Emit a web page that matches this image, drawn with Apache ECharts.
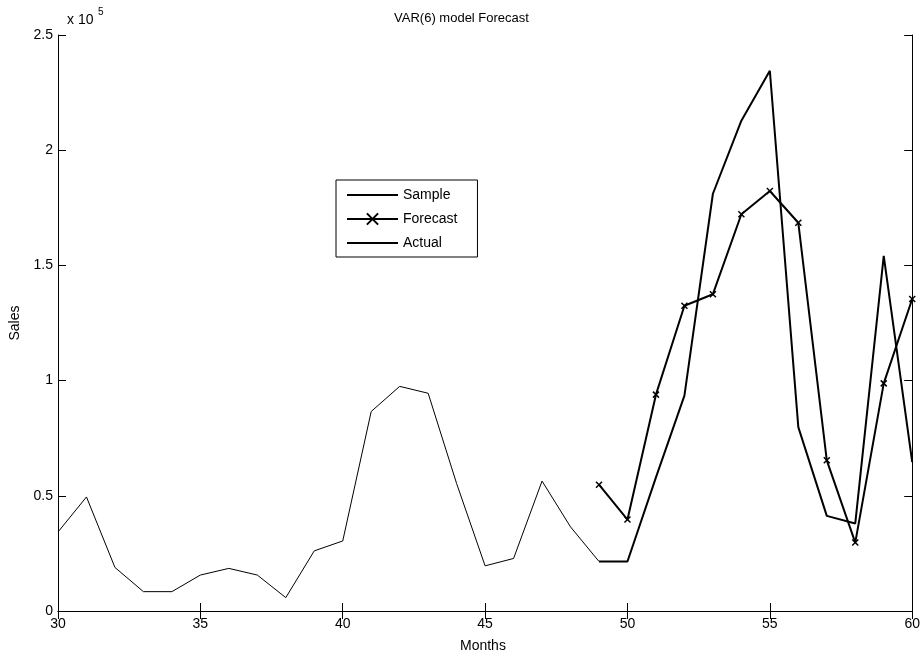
<!DOCTYPE html>
<html>
<head>
<meta charset="utf-8">
<script src="https://cdn.jsdelivr.net/npm/echarts@6/dist/echarts.min.js"></script>
<style>
    html, body { margin: 0; padding: 0; background: #fff; }
    #chart { width: 923px; height: 657px; }
</style>
</head>
<body>
<div id="chart"></div>
<script>
// months and sales
const sampleMonths = [30, 31, 32, 33, 34, 35, 36, 37, 38, 39, 40, 41, 42, 43, 44, 45, 46, 47, 48, 49]
const sampleSales = [34300, 49500, 18900, 8400, 8400, 15600, 18500, 15600, 5800, 26100, 30400, 86600, 97500, 94500, 55300, 19600, 22800, 56400, 36500, 21500]

const forecastMonths = [49, 50, 51, 52, 53, 54, 55, 56, 57, 58, 59, 60]
const forecastSales = [54800, 39700, 93900, 132500, 137500, 172200, 182300, 168500, 65400, 29700, 98800, 135400]

const actualMonths = [49, 50, 51, 52, 53, 54, 55, 56, 57, 58, 59, 60]
const actualSales = [21500, 21500, 58000, 93500, 181100, 212800, 234500, 79800, 41300, 38000, 154100, 64600]

const xTicks = [30, 35, 40, 45, 50, 55, 60]
const yTicks = [0, 50000, 100000, 150000, 200000, 250000]

const pair = (xs, ys) => xs.map((x, i) => [x, ys[i]])

let myChart = echarts.init(document.getElementById('chart'))
const axisColor = '#000'
const font = 'Arial, "Liberation Sans", sans-serif'

let option = {
    animation: false,
    textStyle: { fontFamily: font },
    title: {
        text: 'VAR(6) model Forecast',
        left: 'center',
        top: 7,
        textStyle: { color: '#000', fontSize: 13, fontWeight: 'normal', fontFamily: font }
    },
    grid: { left: 58, right: 10, top: 35, bottom: 46 },
    legend: {
        orient: 'vertical',
        left: 336,
        top: 180,
        padding: [8, 20, 7, 10],
        itemGap: 10,
        itemWidth: 51,
        itemHeight: 14,
        borderColor: '#000',
        borderWidth: 1,
        textStyle: { color: '#000', fontSize: 14, fontFamily: font },
        data: ['Sample', 'Forecast', 'Actual']
    },
    graphic: [
        { type: 'text', left: 67, top: 13, style: { text: 'x 10', fontSize: 14, fill: '#000', fontFamily: font } },
        { type: 'text', left: 98, top: 7, style: { text: '5', fontSize: 10, fill: '#000', fontFamily: font } },
        { type: 'text', left: 460, top: 639, style: { text: 'Months', fontSize: 14, fill: '#000', fontFamily: font } }
    ],
    xAxis: [
        {
            type: 'value',
            min: xTicks[0],
            max: xTicks[xTicks.length - 1],
            interval: 5,
            axisLine: { lineStyle: { color: axisColor, width: 1 } },
            axisTick: { inside: true, length: 8, lineStyle: { color: axisColor } },
            axisLabel: { color: '#000', fontSize: 14, margin: 6 },
            splitLine: { show: false }
        },
        {
            type: 'value',
            position: 'top',
            min: xTicks[0],
            max: xTicks[xTicks.length - 1],
            interval: 5,
            axisLine: { lineStyle: { color: axisColor, width: 1 } },
            axisTick: { inside: true, length: 8, lineStyle: { color: axisColor } },
            axisLabel: { show: false },
            splitLine: { show: false }
        }
    ],
    yAxis: [
        {
            type: 'value',
            name: 'Sales',
            nameLocation: 'middle',
            nameGap: 36,
            nameTextStyle: { color: '#000', fontSize: 14, fontFamily: font },
            min: yTicks[0],
            max: yTicks[yTicks.length - 1],
            interval: 50000,
            axisLine: { show: true, lineStyle: { color: axisColor, width: 1 } },
            axisTick: { show: true, inside: true, length: 8, lineStyle: { color: axisColor } },
            axisLabel: { color: '#000', fontSize: 14, margin: 5, formatter: (v) => String(v / 100000) },
            splitLine: { show: false }
        },
        {
            type: 'value',
            position: 'right',
            min: yTicks[0],
            max: yTicks[yTicks.length - 1],
            interval: 50000,
            axisLine: { show: true, lineStyle: { color: axisColor, width: 1 } },
            axisTick: { show: true, inside: true, length: 8, lineStyle: { color: axisColor } },
            axisLabel: { show: false },
            splitLine: { show: false }
        }
    ],
    series: [
        {
            name: 'Sample',
            type: 'line',
            symbol: 'none',
            data: pair(sampleMonths, sampleSales),
            lineStyle: { color: '#000', width: 1 },
            // transparent so the legend shows only the line
            itemStyle: { color: 'rgba(0,0,0,0)', borderWidth: 0 }
        },
        {
            name: 'Forecast',
            type: 'line',
            symbol: 'path://M0,0L10,10M10,0L0,10',
            symbolSize: 6,
            data: pair(forecastMonths, forecastSales),
            lineStyle: { color: '#000', width: 2 },
            itemStyle: { color: '#000', borderColor: '#000', borderWidth: 1.5 }
        },
        {
            name: 'Actual',
            type: 'line',
            symbol: 'none',
            data: pair(actualMonths, actualSales),
            lineStyle: { color: '#000', width: 2 },
            itemStyle: { color: 'rgba(0,0,0,0)', borderWidth: 0 }
        }
    ]
}

option && myChart.setOption(option)
</script>
</body>
</html>
